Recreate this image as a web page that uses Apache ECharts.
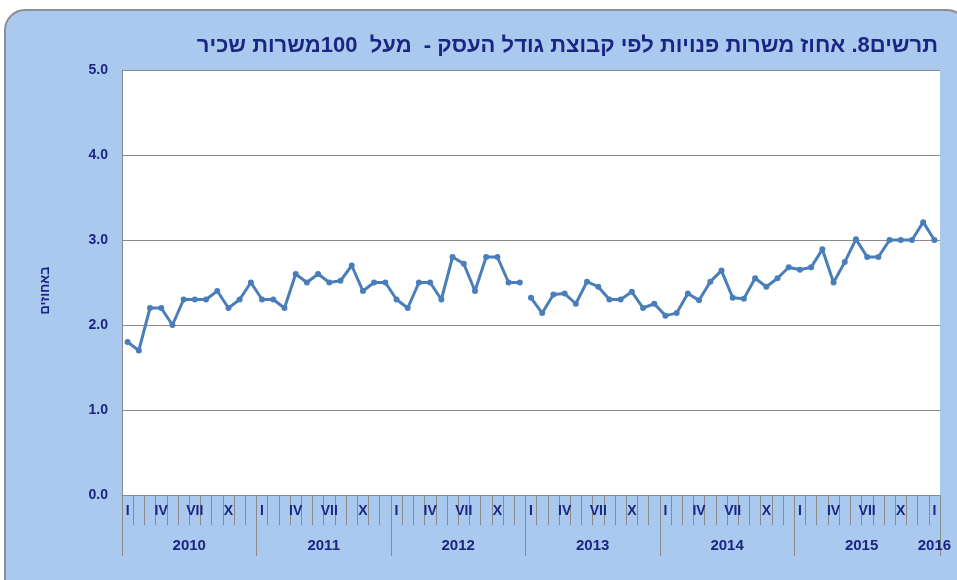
<!DOCTYPE html>
<html>
<head>
<meta charset="utf-8">
<title>chart 8</title>
<script src="https://cdn.jsdelivr.net/npm/echarts@6/dist/echarts.min.js"></script>
<style>
html, body { margin: 0; padding: 0; background: #fff; }
#chart { width: 957px; height: 580px; }
</style>
</head>
<body>
<div id="chart"></div>
<script>
const titleText = 'תרשים8. אחוז משרות פנויות לפי קבוצת גודל העסק -  מעל  100משרות שכיר';
const yName = 'באחוזים';

const years = ['2010', '2011', '2012', '2013', '2014', '2015', '2016'];
const monthMarks = ['I', '', '', 'IV', '', '', 'VII', '', '', 'X', '', ''];
const yTicks = [0, 1, 2, 3, 4, 5];

// monthly values, percent
const v2010 = [1.8, 1.7, 2.2, 2.2, 2.0, 2.3, 2.3, 2.3, 2.4, 2.2, 2.3, 2.5];
const v2011 = [2.3, 2.3, 2.2, 2.6, 2.5, 2.6, 2.5, 2.52, 2.7, 2.4, 2.5, 2.5];
const v2012 = [2.3, 2.2, 2.5, 2.5, 2.3, 2.8, 2.72, 2.4, 2.8, 2.8, 2.5, 2.5];
const v2013 = [2.32, 2.14, 2.36, 2.37, 2.25, 2.51, 2.45, 2.3, 2.3, 2.39, 2.2, 2.25];
const v2014 = [2.11, 2.14, 2.37, 2.29, 2.51, 2.64, 2.32, 2.31, 2.55, 2.45, 2.55, 2.68];
const v2015 = [2.65, 2.68, 2.89, 2.5, 2.74, 3.01, 2.8, 2.8, 3.0, 3.0, 3.0, 3.21];
const v2016 = [3.0];

// categories: one per month
const categories = [];
years.forEach((y, yi) => {
    const n = yi < years.length - 1 ? 12 : v2016.length;
    for (let m = 0; m < n; m++) categories.push(y + '-' + (m + 1));
});

// the line breaks between 2012 and 2013
const partA = v2010.concat(v2011, v2012);
const partB = v2013.concat(v2014, v2015, v2016);
const dataA = partA.concat(partB.map(() => '-'));
const dataB = partA.map(() => '-').concat(partB);

const navy = '#1B2582';
const lineBlue = '#4A7EBB';
const gray = '#8A8A8A';

// long ticks at the year edges, year names in the middle of each year
const yearEdges = [0, 12, 24, 36, 48, 60, categories.length];
const yearMids = years.map((y, i) => i < years.length - 1 ? i * 12 + 6 : i * 12 + v2016.length / 2);

const myChart = echarts.init(document.getElementById('chart'));

const option = {
    backgroundColor: '#fff',
    animation: false,
    title: {
        text: titleText,
        right: 14,
        top: 30,
        textStyle: {
            color: navy,
            fontSize: 22,
            fontWeight: 'bold',
            fontFamily: 'Liberation Sans, Arial, sans-serif'
        }
    },
    graphic: [
        {
            type: 'rect',
            z: -100,
            shape: { x: 5, y: 10, width: 962, height: 600, r: 20 },
            style: { fill: '#A9CAEE', stroke: '#8E8E8E', lineWidth: 2 }
        }
    ],
    grid: {
        left: 122,
        right: 17,
        top: 70,
        bottom: 85,
        show: true,
        backgroundColor: '#fff',
        borderWidth: 0
    },
    xAxis: [
        {
            type: 'category',
            data: categories,
            boundaryGap: true,
            axisLine: { lineStyle: { color: gray } },
            axisTick: { show: true, interval: 0, length: 30, lineStyle: { color: gray } },
            axisLabel: {
                interval: 0,
                margin: 9,
                color: navy,
                fontSize: 14,
                fontWeight: 'bold',
                fontFamily: 'Liberation Sans, Arial, sans-serif',
                formatter: (val, idx) => monthMarks[idx % 12]
            }
        },
        {
            type: 'value',
            position: 'bottom',
            min: 0,
            max: categories.length,
            axisLine: { show: false },
            splitLine: { show: false },
            axisTick: { show: true, length: 61, customValues: yearEdges, lineStyle: { color: gray } },
            axisLabel: {
                customValues: yearMids,
                margin: 43,
                color: navy,
                fontSize: 15,
                fontWeight: 'bold',
                fontFamily: 'Liberation Sans, Arial, sans-serif',
                formatter: (val) => years[Math.floor(val / 12)]
            }
        }
    ],
    yAxis: {
        type: 'value',
        min: yTicks[0],
        max: yTicks[yTicks.length - 1],
        interval: 1,
        name: yName,
        nameLocation: 'middle',
        nameGap: 70,
        nameTextStyle: {
            color: navy,
            fontSize: 13,
            fontWeight: 'bold',
            fontFamily: 'Liberation Sans, Arial, sans-serif',
            padding: [0, 16, 0, 0]
        },
        axisLine: { show: true, lineStyle: { color: gray } },
        axisTick: { show: false },
        splitLine: { lineStyle: { color: gray, width: 1 } },
        axisLabel: {
            margin: 14,
            color: navy,
            fontSize: 14,
            fontWeight: 'bold',
            fontFamily: 'Liberation Sans, Arial, sans-serif',
            formatter: (v) => v.toFixed(1)
        }
    },
    series: [
        {
            name: '2010-2012',
            type: 'line',
            data: dataA,
            symbol: 'circle',
            symbolSize: 6,
            lineStyle: { color: lineBlue, width: 3 },
            itemStyle: { color: lineBlue }
        },
        {
            name: '2013-2016',
            type: 'line',
            data: dataB,
            symbol: 'circle',
            symbolSize: 6,
            lineStyle: { color: lineBlue, width: 3 },
            itemStyle: { color: lineBlue }
        }
    ]
};

myChart.setOption(option);
window.addEventListener('resize', () => {
    myChart.resize();
});
</script>
</body>
</html>
